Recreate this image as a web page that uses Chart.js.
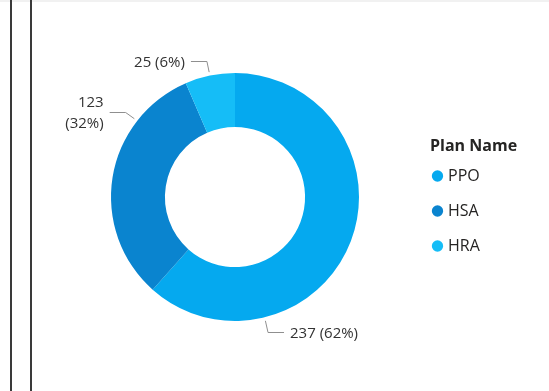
<!DOCTYPE html>
<html>
<head>
<meta charset="utf-8">
<title>Plan Name</title>
<script src="https://cdn.jsdelivr.net/npm/chart.js@4.4.1/dist/chart.umd.min.js"></script>
<style>
    html, body { margin: 0; padding: 0; background: #fff; }
    .frame { position: relative; width: 549px; height: 391px; overflow: hidden; }
    .frame .top-band { position: absolute; left: 0; top: 0; width: 549px; height: 2px; background: #f1f1f1; }
    .frame .edge { position: absolute; top: 0; width: 2px; height: 391px; background: #3a3a3a; }
    #planChart { position: absolute; left: 0; top: 0; }
</style>
</head>
<body>
<div class="frame">
    <div class="top-band"></div>
    <div class="edge" style="left: 10px"></div>
    <div class="edge" style="left: 30px"></div>
    <canvas id="planChart" width="549" height="391"></canvas>
</div>
<script>
// Members per plan
const planNames = ['PPO', 'HSA', 'HRA'];
const planCounts = [237, 123, 25];
const legendTitle = 'Plan Name';

const sliceColors = ['#05A9EF', '#0A84CF', '#15BDF7'];
const textColor = '#252423';

// Value labels with leader lines, drawn from the arc elements
const leaderLabels = {
    id: 'leaderLabels',
    afterDatasetsDraw(chart, args, opts) {
        const ctx = chart.ctx;
        const meta = chart.getDatasetMeta(0);
        const values = chart.data.datasets[0].data;
        const total = values.reduce((a, b) => a + b, 0);

        ctx.save();
        ctx.font = opts.font;
        ctx.textBaseline = 'middle';
        ctx.lineWidth = 1;

        meta.data.forEach((arc, i) => {
            const { x, y, startAngle, endAngle, outerRadius } =
                arc.getProps(['x', 'y', 'startAngle', 'endAngle', 'outerRadius'], true);
            const angle = startAngle + (endAngle - startAngle) * opts.anchorAt[i];
            const cos = Math.cos(angle);
            const sin = Math.sin(angle);

            const x0 = x + cos * (outerRadius + opts.gap);
            const y0 = y + sin * (outerRadius + opts.gap);
            const x1 = x + cos * (outerRadius + opts.gap + opts.radial);
            const y1 = Math.round(y + sin * (outerRadius + opts.gap + opts.radial)) + 0.5;
            const dir = cos >= 0 ? 1 : -1;
            const x2 = x1 + dir * opts.horizontal;

            ctx.strokeStyle = opts.lineColor;
            ctx.beginPath();
            ctx.moveTo(x0, y0);
            ctx.lineTo(x1, y1);
            ctx.lineTo(x2, y1);
            ctx.stroke();

            const text = `${values[i]} (${Math.round(values[i] / total * 100)}%)`;
            const tx = x2 + dir * opts.textGap;
            let lines = [text];
            if (dir < 0 && tx - ctx.measureText(text).width < opts.minX) {
                lines = text.split(' ');
            }

            ctx.fillStyle = opts.color;
            ctx.textAlign = dir > 0 ? 'left' : 'right';
            lines.forEach((line, k) => {
                const ly = y1 + opts.textShift + (k - (lines.length - 1) / 2) * opts.lineHeight;
                ctx.fillText(line, tx, ly);
            });
        });
        ctx.restore();
    }
};

// The legend box is kept narrow for the layout; let it draw up to the right edge
const legendRoom = {
    id: 'legendRoom',
    beforeDraw(chart) {
        const legend = chart.legend;
        if (!legend) return;
        legend.right = chart.width;
        legend.width = legend.right - legend.left;
    }
};

const chart = new Chart(document.getElementById('planChart'), {
    type: 'doughnut',
    data: {
        labels: planNames,
        datasets: [{
            data: planCounts,
            backgroundColor: sliceColors,
            borderWidth: 0,
            hoverOffset: 0,
            offset: 0
        }]
    },
    options: {
        responsive: false,
        devicePixelRatio: 1,
        animation: false,
        events: [],
        cutout: '56.5%',
        layout: {
            padding: { left: 40, top: 73, bottom: 70, right: 69 }
        },
        plugins: {
            tooltip: { enabled: false },
            legend: {
                position: 'right',
                align: 'center',
                maxWidth: 50,
                title: {
                    display: true,
                    text: legendTitle,
                    position: 'start',
                    color: textColor,
                    font: { family: "'Open Sans', sans-serif", size: 16, weight: 'bold', lineHeight: 1.2 },
                    padding: { top: 17, bottom: 5.8 }
                },
                labels: {
                    color: textColor,
                    font: { family: "'Open Sans', sans-serif", size: 16, lineHeight: '30px' },
                    usePointStyle: true,
                    pointStyle: 'circle',
                    boxWidth: 5,
                    boxHeight: 8,
                    padding: 5,
                    generateLabels(chart) {
                        const items = Chart.overrides.doughnut.plugins.legend.labels.generateLabels(chart);
                        return items.map(item => Object.assign(item, { text: [item.text] }));
                    }
                }
            },
            leaderLabels: {
                font: "15px 'Open Sans', sans-serif",
                color: '#333333',
                lineColor: '#8f8f8f',
                anchorAt: [0.75, 0.75, 0.5],
                gap: 3.5,
                radial: 11,
                horizontal: 16,
                textGap: 6,
                textShift: 1,
                lineHeight: 21,
                minX: 45
            }
        }
    },
    plugins: [leaderLabels, legendRoom]
});
</script>
</body>
</html>
